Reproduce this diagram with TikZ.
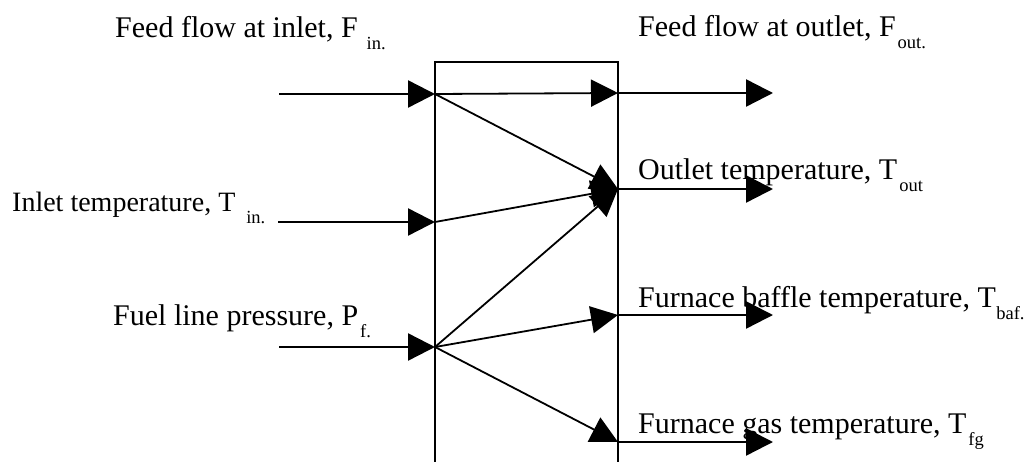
\documentclass[tikz,border=0pt]{standalone}
\usepackage{fontspec}
\setmainfont{Liberation Serif}
\usetikzlibrary{arrows.meta}
\newcommand\subtx[2][2pt]{\hspace{#1}\raisebox{-12pt}{\fontsize{18.5}{19}\selectfont #2}}
\tikzset{
  lbl/.style={anchor=base west, inner sep=0pt, font=\fontsize{30}{36}\selectfont},
  flowarrow/.style={line width=2.4pt, -{Triangle[length=27pt,width=27pt]}},
  innerarrow/.style={line width=1.8pt, -{Triangle[length=27pt,width=27pt]}},
  boxline/.style={line width=1.8pt}
}
\begin{document}
\begin{tikzpicture}[x=1pt,y=-1pt]
\useasboundingbox (0,0) rectangle (1024,462);
% box
\coordinate (bl) at (435,463);
\coordinate (tl) at (435,62);
\coordinate (tr) at (618,62);
\coordinate (br) at (618,463);
\draw[boxline] (bl) -- (tl) -- (tr) -- (br);
% input points
\coordinate (i1) at (279,94);
\coordinate (i2) at (278,222);
\coordinate (i3) at (279,347);
\coordinate (a1) at (435,94);
\coordinate (a2) at (435,222);
\coordinate (a3) at (435,347);
% output points
\coordinate (b1) at (618,93);
\coordinate (b2) at (618,189);
\coordinate (b3) at (618,315);
\coordinate (b4) at (618,442);
\coordinate (o1) at (773,93);
\coordinate (o2) at (773,189);
\coordinate (o3) at (773,315);
\coordinate (o4) at (773,442);
% input arrows
\draw[flowarrow] (i1) -- (a1);
\draw[flowarrow] (i2) -- (a2);
\draw[flowarrow] (i3) -- (a3);
% inner arrows
\draw[innerarrow] (a1) -- (b1);
\draw[innerarrow] (a1) -- (b2);
\draw[innerarrow] (a2) -- (b2);
\draw[innerarrow] (a3) -- (b2);
\draw[innerarrow] (a3) -- (b3);
\draw[innerarrow] (a3) -- (b4);
% output arrows
\draw[flowarrow] (b1) -- (o1);
\draw[flowarrow] (b2) -- (o2);
\draw[flowarrow] (b3) -- (o3);
\draw[flowarrow] (b4) -- (o4);
% labels
\node[lbl] (l1) at (115,38) {Feed flow at inlet, F\subtx[9pt]{in.}};
\node[lbl] (l2) at (638,37) {Feed flow at outlet, F\subtx{out.}};
\node[lbl, font=\fontsize{28}{34}\selectfont] (l3) at (12,212) {Inlet temperature, T\subtx[11pt]{in.}};
\node[lbl] (l4) at (113,325) {Fuel line pressure, P\subtx{f.}};
\node[lbl] (l5) at (638,180) {Outlet temperature, T\subtx{out}};
\node[lbl] (l6) at (638,307) {Furnace baffle temperature, T\subtx[0.5pt]{baf.}};
\node[lbl] (l7) at (638,433) {Furnace gas temperature, T\subtx{fg}};
\end{tikzpicture}
\end{document}
